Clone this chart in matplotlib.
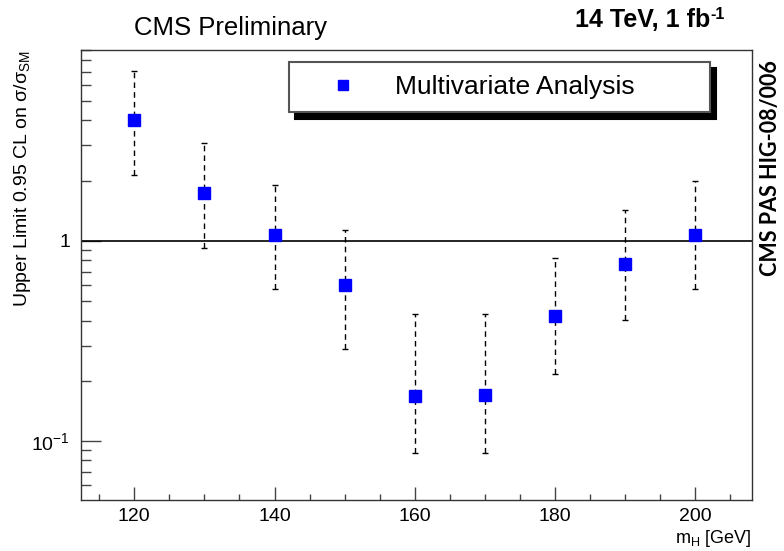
import matplotlib
matplotlib.use("Agg")
import matplotlib.pyplot as plt
import numpy as np
from matplotlib.ticker import FixedLocator, NullFormatter, MultipleLocator
from matplotlib.lines import Line2D

plt.rcParams['font.family'] = ['Liberation Sans', 'DejaVu Sans']
plt.rcParams['mathtext.fontset'] = 'custom'
plt.rcParams['mathtext.rm'] = 'Liberation Sans'
plt.rcParams['mathtext.it'] = 'Liberation Sans:italic'
plt.rcParams['mathtext.bf'] = 'Liberation Sans:bold'

# data
mass = [120, 130, 140, 150, 160, 170, 180, 190, 200]
limit = [4.01, 1.73, 1.07, 0.60, 0.167, 0.169, 0.423, 0.765, 1.07]
err_up = [7.05, 3.09, 1.91, 1.14, 0.43, 0.43, 0.82, 1.43, 2.0]
err_down = [2.14, 0.919, 0.575, 0.288, 0.0867, 0.087, 0.215, 0.403, 0.573]
series_label = "Multivariate Analysis"
ytick_vals = [0.1, 1]
ytick_labels = [r'$10^{-1}$', '1']
xtick_vals = [120, 140, 160, 180, 200]

fig = plt.figure(figsize=(7.84, 5.51), dpi=100)
ax = fig.add_axes([81/784, 1-500/551, (752-81)/784, (500-50)/551])

lim = np.array(limit)
yerr = np.vstack([lim - np.array(err_down), np.array(err_up) - lim])
eb = ax.errorbar(mass, limit, yerr=yerr, fmt='s', color='#0000ff', ms=8.5,
                 mec='#0000ff', ecolor='black', elinewidth=1.0, capsize=2.5,
                 capthick=1.0, zorder=3)
eb[2][0].set_linestyle((0, (4, 3)))

ax.axhline(1.0, color='black', lw=1.2, zorder=2)

ax.set_yscale('log')
ax.set_xlim(112.4, 208.1)
ax.set_ylim(0.0507, 9.0)

ax.yaxis.set_major_locator(FixedLocator(ytick_vals))
ax.set_yticklabels(ytick_labels)
minors = [v * d for d in [0.01, 0.1, 1] for v in range(2, 10)]
ax.yaxis.set_minor_locator(FixedLocator(minors))
ax.yaxis.set_minor_formatter(NullFormatter())
ax.xaxis.set_major_locator(FixedLocator(xtick_vals))
ax.xaxis.set_minor_locator(MultipleLocator(5))

ax.tick_params(axis='both', which='both', direction='in', width=1,
               color='#444444', top=False, right=False, labelsize=14)
ax.tick_params(axis='y', which='major', length=14.4, pad=8)
ax.tick_params(axis='y', which='minor', length=7.2)
ax.tick_params(axis='x', which='major', length=9.4, pad=6)
ax.tick_params(axis='x', which='minor', length=4.3)
for s in ax.spines.values():
    s.set_color('#333333')
    s.set_linewidth(1.0)

ax.set_ylabel('Upper Limit 0.95 CL on σ/σ$_{\\rm SM}$', fontsize=14, loc='top')
ax.yaxis.set_label_coords(-0.072, 1.0)
ax.set_xlabel(r'm$_{\rm H}$ [GeV]', fontsize=13, loc='right')
ax.xaxis.set_label_coords(1.0, -0.063)

handle = Line2D([], [], marker='s', ls='none', color='#0000ff', ms=7.5)
leg = ax.legend([handle], [series_label], loc='upper left',
                bbox_to_anchor=((289-81)/671, (500-62)/450, (710-289)/671, 0),
                mode='expand', fontsize=19, frameon=True, fancybox=False,
                shadow={'ox': 4.5, 'oy': -4.5, 'color': 'black', 'alpha': 1},
                borderpad=0.5, handletextpad=0.42, handlelength=3.09,
                borderaxespad=0)
leg.get_frame().set_edgecolor('#555555')
leg.get_frame().set_linewidth(1.5)

fig.text(230/784, 1-28/551, 'CMS Preliminary', ha='center', va='center', fontsize=18.5)
t = fig.text(710/784, 1-20/551, '14 TeV, 1 fb', ha='right', va='center',
             fontsize=18, fontweight='bold')
ax.annotate('-1', xy=(1, 1), xycoords=t, xytext=(0.5, 1),
            textcoords='offset points', ha='left', va='top',
            fontsize=11.5, fontweight='bold', annotation_clip=False)
fig.text(771/784, 1-168/551, 'CMS PAS HIG-08/006', ha='center', va='center',
         rotation=90, fontsize=15.5, fontweight='bold', family=['Lato', 'DejaVu Sans'])

fig.savefig('out.png', dpi=100)
